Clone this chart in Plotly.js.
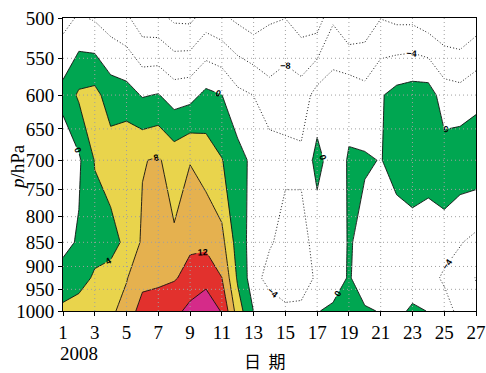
<!DOCTYPE html>
<html><head><meta charset="utf-8">
<script src="https://cdn.plot.ly/plotly-3.0.1.min.js"></script>
<style>html,body{margin:0;padding:0;background:#fff;}#chart{width:486px;height:373px;}</style>
</head><body><div id="chart"></div>
<script>
// days of January 2008 and pressure levels (hPa)
const days = [1,2,3,4,5,6,7,8,9,10,11,12,13,14,15,16,17,18,19,20,21,22,23,24,25,26,27];
const levels = [500, 600, 700, 850, 925, 1000];
// field values at each level, day 1..27
const z500  = [-5.42,-3.5,-4.42,-5.94,-7.29,-10.5,-10.8,-12.72,-12.9,-10.06,-11.3,-12.78,-14.2,-12.5,-12.05,-14.0,-14.3,-8.6,-11.56,-10.5,-8.1,-8.89,-8.95,-10.42,-11.4,-11.8,-10.1];
const z600  = [1.36,4.6,5.2,2.12,1.6,-0.3,0.2,-1.82,-1.3,0.94,0.05,-2.98,-4.05,-6.64,-5.37,-6.1,-2.5,-1.74,-1.27,-2.56,-0.36,1.3,1.95,2.0,-2.0,-2.51,-1.2];
const z700  = [-3.0,-0.6,4.2,6.04,7.6,7.8,8.4,6.31,7.8,6.13,4.16,1.5,-1.0,-1.66,-3.16,-3.14,1.35,-2.0,0.34,0.4,-0.12,1.08,2.0,1.5,1.77,2.72,2.8];
const z850  = [-1.0,0.4,2.5,2.46,5.03,8.54,9.5,8.53,11.4,10.99,9.21,2.1,-1.72,-3.5,-5.5,-5.53,-2.4,-3.0,0.4,-1.3,-2.0,-1.49,-1.45,-1.76,-1.18,-3.76,-5.02];
const z925  = [1.33,2.5,4.53,5.6,7.8,10.5,11.2,11.7,13.1,15.0,12.05,3.35,-2.23,-5.77,-6.0,-5.0,-3.67,-3.4,0.6,-3.4,-2.0,-1.5,-1.0,-1.57,-5.04,-5.76,-8.2];
const z1000 = [4.94,5.7,7.0,7.4,9.2,14.0,13.96,14.7,17.24,18.0,15.78,6.0,-0.1,-1.0,-3.3,-3.53,-0.3,1.2,1.5,0.7,-0.3,-0.5,0.3,-0.05,-0.88,-6.08,-6.0];
const xTickVals = [1,3,5,7,9,11,13,15,17,19,21,23,25,27];
const yTickVals = [500,550,600,650,700,750,800,850,900,950,1000];

const zGrid = [z500, z600, z700, z850, z925, z1000];
const serif = '"Times New Roman", "Liberation Serif", "DejaVu Serif", serif';
const labFont = {size: 9, color: '#000', family: 'Liberation Sans', weight: 'bold'};

const posTrace = {
  type: 'contour', x: days, y: levels, z: zGrid,
  autocontour: false,
  contours: {start: 0, end: 16, size: 4, coloring: 'fill', showlabels: true, labelfont: labFont},
  colorscale: [[0,'#ffffff'],[0.2,'#00a651'],[0.4,'#e9d44c'],[0.6,'#e5b14f'],[0.8,'#e2312d'],[1,'#d52b89']],
  line: {color: '#111', width: 0.9, smoothing: 0},
  showscale: false, hoverinfo: 'skip'
};
const negTrace = {
  type: 'contour', x: days, y: levels, z: zGrid,
  autocontour: false,
  contours: {start: -8, end: -4, size: 4, coloring: 'none', showlabels: true, labelfont: labFont},
  line: {color: '#222', width: 1, dash: '1px,2px', smoothing: 0},
  showscale: false, hoverinfo: 'skip'
};
const neg12Trace = {
  type: 'contour', x: days, y: levels, z: zGrid,
  autocontour: false,
  contours: {start: -12, end: -12, size: 4, coloring: 'none', showlabels: false},
  line: {color: '#222', width: 1, dash: '1px,2px', smoothing: 0},
  showscale: false, hoverinfo: 'skip'
};

const shapes = [];
xTickVals.filter(v => v !== days[0] && v !== days[days.length-1]).forEach(v => {
  shapes.push({type:'line', xref:'x', yref:'paper', x0:v, x1:v, y0:0, y1:1, layer:'above',
               line:{color:'#a0a0a0', width:1, dash:'1px,3px'}});
});
yTickVals.filter(v => v !== 500 && v !== 1000).forEach(v => {
  shapes.push({type:'line', xref:'paper', yref:'y', x0:0, x1:1, y0:v, y1:v, layer:'above',
               line:{color:'#a0a0a0', width:1, dash:'1px,3px'}});
});

const layout = {
  width: 486, height: 373,
  margin: {l: 63, r: 10, t: 18, b: 62},
  paper_bgcolor: '#fff', plot_bgcolor: '#fff',
  showlegend: false,
  font: {family: serif},
  xaxis: {range: [1, 27], tickvals: xTickVals, ticktext: xTickVals.map(String),
          showgrid: false, zeroline: false, showline: true, mirror: true, linecolor: '#000', linewidth: 1,
          ticks: 'outside', ticklen: 4, tickcolor: '#000', layer: 'above traces',
          tickfont: {family: serif, size: 19, color: '#000'}},
  yaxis: {type: 'log', range: [Math.log10(1000), Math.log10(500)],
          tickvals: yTickVals, ticktext: yTickVals.map(String),
          showgrid: false, zeroline: false, showline: true, mirror: true, linecolor: '#000', linewidth: 1,
          ticks: 'outside', ticklen: 4, tickcolor: '#000', layer: 'above traces',
          tickfont: {family: serif, size: 19, color: '#000'}},
  shapes: shapes,
  annotations: [
    {text: '2008', xref: 'x', yref: 'paper', x: 1, y: -0.145, xanchor: 'left', yanchor: 'middle', xshift: -5,
     showarrow: false, font: {family: serif, size: 19, color: '#000'}},
    {text: '日  期', xref: 'paper', yref: 'paper', x: 0.49, y: -0.17, xanchor: 'center', yanchor: 'middle',
     showarrow: false, font: {family: 'Noto Sans CJK SC', size: 17, color: '#000'}},
    {text: '<i>p</i>/hPa', xref: 'paper', yref: 'paper', x: -0.11, y: 0.49, xanchor: 'center', yanchor: 'middle',
     textangle: -90, showarrow: false, font: {family: serif, size: 19, color: '#000'}}
  ]
};

Plotly.newPlot('chart', [posTrace, neg12Trace, negTrace], layout, {displayModeBar: false, staticPlot: true});
</script></body></html>
